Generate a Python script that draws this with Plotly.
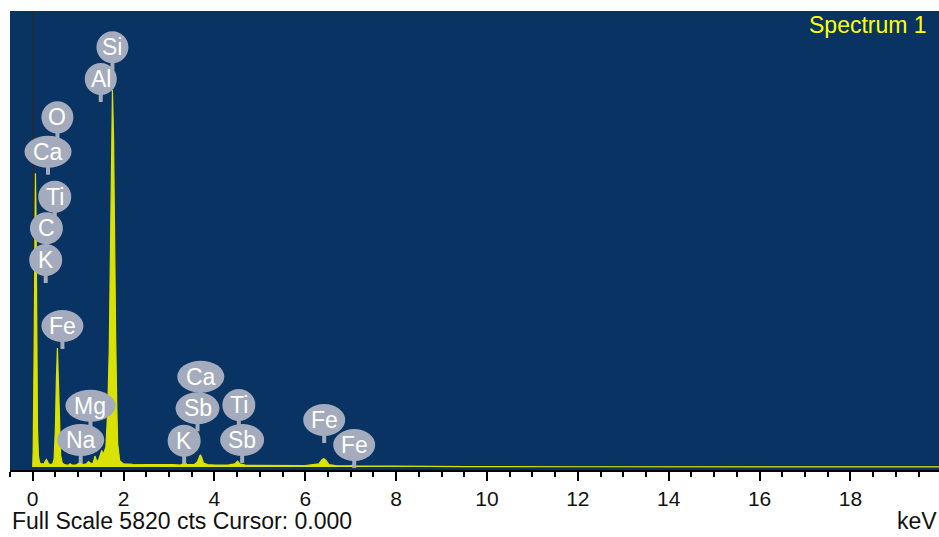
import plotly.graph_objects as go

# ---- spectrum data (energy in keV, counts) ----
energy_kev = [0.0, 0.010, 0.030, 0.045, 0.060, 0.075, 0.090, 0.105, 0.125, 0.15,
              0.18, 0.25, 0.28, 0.30, 0.32, 0.35, 0.40, 0.44, 0.47, 0.50,
              0.52, 0.544, 0.565, 0.59, 0.615, 0.65, 0.70, 0.78, 0.82, 0.86,
              0.95, 1.00, 1.04, 1.08, 1.13, 1.18, 1.23, 1.28, 1.33, 1.37,
              1.41, 1.45, 1.49, 1.52, 1.55, 1.61, 1.65, 1.685, 1.71, 1.735,
              1.755, 1.78, 1.80, 1.825, 1.85, 1.87, 1.915, 2.00, 2.2, 2.5,
              2.8, 3.1, 3.25, 3.32, 3.36, 3.40, 3.55, 3.62, 3.66, 3.69,
              3.72, 3.76, 3.85, 4.0, 4.3, 4.45, 4.51, 4.56, 4.7, 5.0,
              5.5, 6.0, 6.3, 6.37, 6.41, 6.45, 6.52, 6.7, 7.0, 7.06,
              7.12, 7.5, 8.0, 8.5, 9.5, 12.0, 16.0, 20.0]
counts = [0, 200, 1400, 3000, 3750, 3100, 1500, 500, 150, 60,
          40, 40, 80, 95, 80, 40, 30, 40, 100, 500,
          1100, 1520, 1100, 450, 150, 50, 30, 20, 40, 25,
          25, 40, 60, 40, 30, 40, 70, 45, 50, 140,
          70, 90, 170, 210, 160, 250, 700, 1500, 2700, 4200,
          4810, 4200, 2800, 1700, 800, 300, 80, 40, 35, 30,
          30, 30, 25, 45, 50, 30, 30, 60, 130, 155,
          120, 50, 30, 25, 25, 40, 75, 40, 22, 20,
          18, 18, 40, 95, 105, 90, 30, 15, 15, 25,
          14, 12, 10, 7, 5, 3, 2, 2]

# ---- element labels (text, energy of marker, label centre height in counts) ----
label_text = ["Si", "Al", "O", "Ca", "Ti", "C", "K", "Fe", "Mg", "Na",
              "Ca", "Sb", "K", "Ti", "Sb", "Fe", "Fe"]
label_kev = [1.755, 1.498, 0.544, 0.337, 0.485, 0.302, 0.286, 0.654, 1.271, 1.057,
             3.700, 3.628, 3.333, 4.537, 4.610, 6.416, 7.077]
label_cts = [5357, 4952, 4463, 4024, 3450, 3047, 2642, 1800, 782, 345,
             1153, 749, 336, 791, 345, 600, 281]

tick_vals = [0, 2, 4, 6, 8, 10, 12, 14, 16, 18]
tick_text = [str(v) for v in tick_vals]

full_scale = 5820
title_text = "Spectrum 1"
footer_text = "Full Scale 5820 cts Cursor: 0.000"
unit_text = "keV"

# ---- styles ----
BG = "#083363"
SPEC = "#d9e200"
BUBBLE = "#a3abbd"
label_width_px = {"Si": 32, "Al": 32, "O": 32, "Ca": 47, "Ti": 33, "C": 33,
                  "K": 33, "Fe": 42, "Mg": 50, "Na": 47, "Sb": 44}
FONT = "Liberation Sans, Arial, sans-serif"

fig = go.Figure()
fig.add_trace(go.Scatter(
    x=energy_kev, y=counts, mode="lines",
    line=dict(color=SPEC, width=1.2),
    fill="tozeroy", fillcolor=SPEC,
    hoverinfo="skip", showlegend=False,
))

shapes = []
# stems first
for t, e, c in zip(label_text, label_kev, label_cts):
    shapes.append(dict(type="rect", xref="x", yref="y",
                       xsizemode="pixel", ysizemode="pixel",
                       xanchor=e, yanchor=c, x0=-2, x1=2, y0=-23, y1=-12,
                       fillcolor=BUBBLE, line=dict(width=0), layer="above"))
# bubbles, upper ones first so lower ones overlap
order = sorted(range(len(label_text)), key=lambda i: -label_cts[i])
for i in order:
    w = label_width_px[label_text[i]]
    shapes.append(dict(type="circle", xref="x", yref="y",
                       xsizemode="pixel", ysizemode="pixel",
                       xanchor=label_kev[i], yanchor=label_cts[i],
                       x0=-w / 2, x1=w / 2, y0=-16, y1=16,
                       fillcolor=BUBBLE, line=dict(width=0), layer="above"))

annotations = []
for t, e, c in zip(label_text, label_kev, label_cts):
    annotations.append(dict(x=e, y=c, xref="x", yref="y", text=t,
                            showarrow=False, xanchor="center", yanchor="middle",
                            font=dict(family=FONT, size=23, color="white")))

annotations.append(dict(x=0.989, y=0.9695, xref="paper", yref="paper",
                        text=title_text, showarrow=False,
                        xanchor="right", yanchor="middle",
                        font=dict(family=FONT, size=23, color="#ffff00")))
annotations.append(dict(x=0.0, y=-0.112, xref="paper", yref="paper",
                        text=footer_text, showarrow=False,
                        xanchor="left", yanchor="middle",
                        font=dict(family=FONT, size=23, color="#111111")))
annotations.append(dict(x=1.0, y=-0.112, xref="paper", yref="paper",
                        text=unit_text, showarrow=False,
                        xanchor="right", yanchor="middle",
                        font=dict(family=FONT, size=23, color="#111111")))

fig.update_layout(
    width=939, height=537,
    margin=dict(l=10, r=0, t=11, b=67),
    paper_bgcolor="white", plot_bgcolor=BG,
    shapes=shapes, annotations=annotations,
    showlegend=False,
    xaxis=dict(range=[-0.5, 19.95], tickmode="array", tickvals=tick_vals,
               ticktext=tick_text, ticks="outside", ticklen=9, tickwidth=2,
               tickcolor="black", showgrid=False, showline=True,
               linecolor="black", linewidth=1.5,
               zeroline=True, zerolinecolor="#1f2c3c", zerolinewidth=1.5,
               tickfont=dict(family=FONT, size=21, color="#111111"),
               ticklabelstandoff=0,
               minor=dict(dtick=0.5, tick0=0, ticks="outside", ticklen=5,
                          tickwidth=2, tickcolor="black", showgrid=False),
               fixedrange=True),
    yaxis=dict(range=[-38.3, full_scale], visible=False, showgrid=False,
               zeroline=False, fixedrange=True),
)

fig.write_html("out.html", config={"displayModeBar": False},
               post_script="document.body.style.margin='0';document.body.style.overflow='hidden';")
